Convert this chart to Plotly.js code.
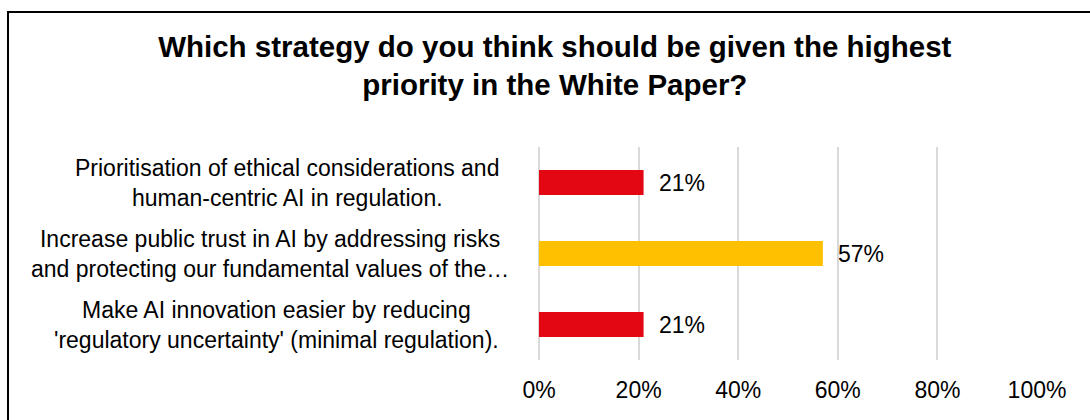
<!DOCTYPE html>
<html>
<head>
<meta charset="utf-8">
<script src="https://cdn.plot.ly/plotly-3.0.1.min.js"></script>
<style>
  html, body { margin: 0; padding: 0; background: #ffffff; }
  #wrap { position: relative; width: 1090px; height: 420px; overflow: hidden; }
  #frame { position: absolute; left: 7px; top: 11px; width: 1200px; height: 500px;
           border-left: 2.5px solid #000; border-top: 2px solid #000; box-sizing: border-box; }
  #chart { position: absolute; left: 0; top: 0; width: 1090px; height: 420px; }
</style>
</head>
<body>
<div id="wrap">
  <div id="frame"></div>
  <div id="chart"></div>
</div>
<script>
const categories = [
  "Prioritisation of ethical considerations and<br>human-centric AI in regulation.",
  "Increase public trust in AI by addressing risks<br>and protecting our fundamental values of the…",
  "Make AI innovation easier by reducing<br>'regulatory uncertainty' (minimal regulation)."
];
const values = [21, 57, 21];
const barColors = ["#E30613", "#FFC000", "#E30613"];
const tickVals = [0, 20, 40, 60, 80, 100];
const tickText = ["0%", "20%", "40%", "60%", "80%", "100%"];
const titleText = "Which strategy do you think should be given the highest<br>priority in the White Paper?";

const FONT = "Liberation Sans, Arial, sans-serif";

const trace = {
  type: "bar",
  orientation: "h",
  y: categories,
  x: values,
  marker: { color: barColors, line: { width: 0 } },
  width: 0.35,
  hoverinfo: "skip",
  showlegend: false
};

const annotations = [];
categories.forEach((c, i) => {
  annotations.push({
    xref: "paper", yref: "y", x: -0.077, y: c,
    xanchor: "right", yanchor: "middle",
    xshift: i === 1 ? 10 : 0,
    text: c, align: "center", showarrow: false,
    font: { family: FONT, size: 23, color: "#000" }
  });
  annotations.push({
    xref: "x", yref: "y", x: values[i], y: c,
    xanchor: "left", yanchor: "middle", xshift: 13,
    text: values[i] + "%", showarrow: false,
    font: { family: FONT, size: 23, color: "#000" }
  });
});

const layout = {
  width: 1090, height: 420,
  margin: { l: 539, r: 53, t: 147, b: 60 },
  paper_bgcolor: "rgba(0,0,0,0)",
  plot_bgcolor: "rgba(0,0,0,0)",
  title: {
    text: titleText,
    x: 0.509, xanchor: "center", xref: "container",
    y: 0.865, yanchor: "top", yref: "container",
    font: { family: FONT, size: 29.5, color: "#000", weight: "bold" }
  },
  xaxis: {
    range: [0, 100],
    tickvals: tickVals, ticktext: tickText,
    showgrid: true, gridcolor: "#D9D9D9", gridwidth: 2,
    zeroline: true, zerolinecolor: "#D9D9D9", zerolinewidth: 2,
    showline: false, ticks: "",
    ticklabelstandoff: 14,
    tickfont: { family: FONT, size: 23, color: "#000" },
    fixedrange: true
  },
  yaxis: {
    type: "category",
    autorange: "reversed",
    showticklabels: false, showgrid: false, zeroline: false, showline: false,
    ticks: "", fixedrange: true
  },
  annotations: annotations
};

Plotly.newPlot("chart", [trace], layout, { displayModeBar: false, staticPlot: true });
</script>
</body>
</html>
